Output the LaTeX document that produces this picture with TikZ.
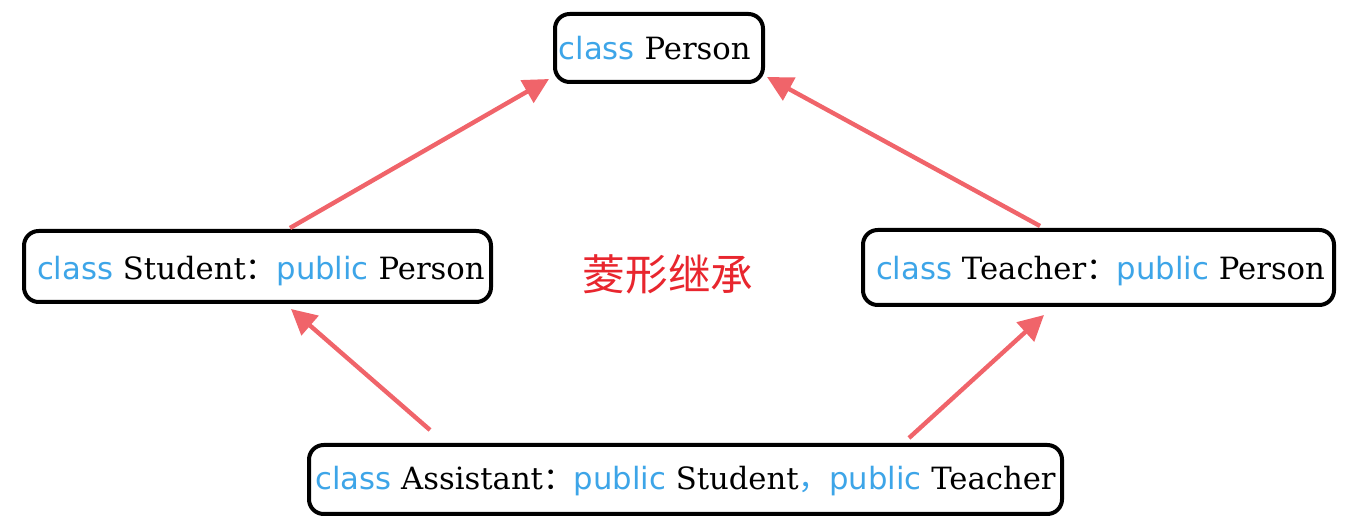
\documentclass[tikz,border=0pt]{standalone}
\usepackage{fontspec}
\setmainfont{DejaVu Serif}
\setsansfont{DejaVu Sans}
\newfontfamily\cjk{Noto Sans CJK SC}
\usetikzlibrary{arrows.meta,calc}
\definecolor{kwblue}{HTML}{3DA5E8}
\definecolor{arrred}{HTML}{F0646A}
\definecolor{cnred}{HTML}{E8262E}
\newcommand{\kw}[1]{{\sffamily\color{kwblue}#1}}
\newcommand{\cc}{{\cjk ：}}
\begin{document}
\begin{tikzpicture}[x=0.75pt,y=-0.75pt,
  box/.style={draw=black, line width=3pt, rounded corners=11pt, fill=white,
    inner sep=0pt, text height=17pt, text depth=5pt, font=\fontsize{23}{27}\selectfont},
  inh/.style={draw=arrred, line width=3.3pt,
    -{Triangle[length=19pt,width=19pt]}}]
\useasboundingbox (0,0) rectangle (1368,523);

\node[box, minimum width=156pt, minimum height=51pt] (person) at (659,48)
  {\hspace*{-6.5pt}\raisebox{-3pt}{\kw{class} Person}};
\node[box, minimum width=350.25pt, minimum height=53.25pt] (student) at (257.5,266.5)
  {\hspace*{5pt}\raisebox{-4pt}{\kw{class} Student\cc\kw{public} Person}};
\node[box, minimum width=353.25pt, minimum height=56.25pt] (teacher) at (1098.5,267.5)
  {\hspace*{3pt}\raisebox{-3pt}{\kw{class} Teacher\cc\kw{public} Person}};
\node[box, minimum width=564.75pt, minimum height=51.75pt] (assistant) at (685.5,479.5)
  {\raisebox{-1.5pt}{\kw{class} Assistant\cc\kw{public} Student{\color{kwblue}\cjk ，}\kw{public} Teacher}};
\node[text=cnred, font=\cjk\fontsize{32}{36}\selectfont] (title) at (668,274) {菱形继承};

\draw[inh] ($(student.north)+(32.5,-1)$) -- ($(person.south west)+(-4,-5)$);
\draw[inh] ($(teacher.north)+(-58.5,-2)$) -- ($(person.south east)+(2,-7)$);
\draw[inh] ($(assistant.north)+(-255.5,-13)$) -- ($(student.south)+(33.5,5)$);
\draw[inh] ($(assistant.north)+(223.5,-5)$) -- ($(teacher.south)+(-54.5,8)$);
\end{tikzpicture}
\end{document}
